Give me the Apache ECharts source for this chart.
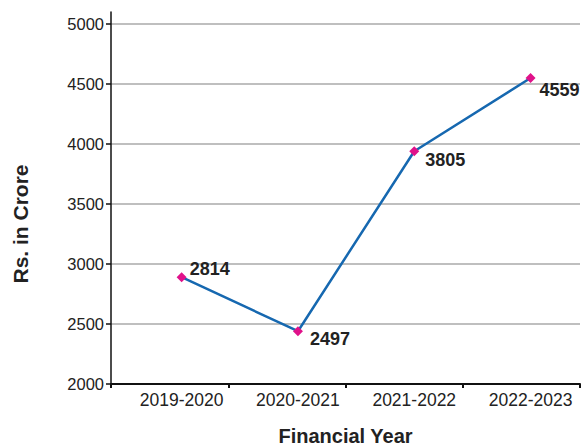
<!DOCTYPE html>
<html>
<head>
<meta charset="utf-8">
<script src="https://cdn.jsdelivr.net/npm/echarts@6/dist/echarts.min.js"></script>
<style>
  html, body { margin: 0; padding: 0; background: #fff; }
  #chart { width: 581px; height: 446px; }
</style>
</head>
<body>
<div id="chart"></div>
<script>
// data
let years = ['2019-2020', '2020-2021', '2021-2022', '2022-2023'];
let values = [2890, 2440, 3940, 4550]; // where the markers sit
let valueLabels = ['2814', '2497', '3805', '4559']; // printed labels
let yTicks = [2000, 2500, 3000, 3500, 4000, 4500, 5000];

let font = '"Liberation Sans", Arial, sans-serif';
let chart = echarts.init(document.getElementById('chart'), null, { renderer: 'svg' });

// label offsets next to each marker
let labelPlace = [
    { distance: 3, offset: [0, -8] },
    { distance: 7, offset: [0, 8] },
    { distance: 6, offset: [0, 9] },
    { distance: 4, offset: [0, 12] }
];

let points = values.map((v, i) => ({
    value: v,
    label: {
        show: true,
        position: 'right',
        distance: labelPlace[i].distance,
        offset: labelPlace[i].offset,
        formatter: valueLabels[i]
    }
}));

let noBounds = { outerBoundsMode: 'none', containLabel: false };

chart.setOption({
    animation: false,
    textStyle: { fontFamily: font },
    grid: [
        // frame: gridlines, ticks, names
        Object.assign({ left: 111, right: 1, top: 24, bottom: 62 }, noBounds),
        // y axis line runs a bit above 5000
        Object.assign({ left: 111, right: 1, top: 12, bottom: 62 }, noBounds),
        // data + category labels sit a little right of the tick bands
        Object.assign({ left: 123.5, right: -7.7, top: 24, bottom: 62 }, noBounds)
    ],
    xAxis: [
        {
            type: 'category',
            gridIndex: 0,
            data: years,
            name: 'Financial Year',
            nameLocation: 'middle',
            nameGap: 42,
            nameTextStyle: { fontSize: 20, fontWeight: 'bold', color: '#222', fontFamily: font },
            axisLine: { lineStyle: { color: '#111', width: 2 } },
            axisTick: { show: true, length: 4, lineStyle: { color: '#111', width: 2 } },
            axisLabel: { show: false }
        },
        { type: 'category', gridIndex: 1, show: false, data: years },
        {
            type: 'category',
            gridIndex: 2,
            data: years,
            axisLine: { show: false },
            axisTick: { show: false },
            axisLabel: { fontSize: 17.5, color: '#222', margin: 7, fontFamily: font }
        }
    ],
    yAxis: [
        {
            type: 'value',
            gridIndex: 0,
            min: yTicks[0],
            max: yTicks[yTicks.length - 1],
            interval: 500,
            name: 'Rs. in Crore',
            nameLocation: 'middle',
            nameRotate: 90,
            nameGap: 80,
            nameTextStyle: {
                fontSize: 21, fontWeight: 'bold', color: '#222', fontFamily: font,
                padding: [0, 40, 0, 0]
            },
            axisLine: { show: false },
            axisTick: { show: true, length: 5, lineStyle: { color: '#111', width: 1.5 } },
            axisLabel: {
                fontSize: 16.5, color: '#222', margin: 7, fontFamily: font,
                formatter: v => String(v)
            },
            splitLine: { show: true, lineStyle: { color: '#aaa', width: 1.5 } }
        },
        {
            type: 'value',
            gridIndex: 1,
            min: 0,
            max: 1,
            axisLine: { show: true, lineStyle: { color: '#111', width: 1.5 } },
            axisTick: { show: false },
            axisLabel: { show: false },
            splitLine: { show: false }
        },
        {
            type: 'value',
            gridIndex: 2,
            min: yTicks[0],
            max: yTicks[yTicks.length - 1],
            show: false
        }
    ],
    series: [
        {
            type: 'line',
            xAxisIndex: 2,
            yAxisIndex: 2,
            data: points,
            symbol: 'diamond',
            symbolSize: 10,
            lineStyle: { color: '#1668b0', width: 2.5 },
            itemStyle: { color: '#e0128a' },
            label: {
                fontSize: 18,
                fontWeight: 'bold',
                color: '#222',
                fontFamily: font
            },
            z: 3
        }
    ]
});
</script>
</body>
</html>
